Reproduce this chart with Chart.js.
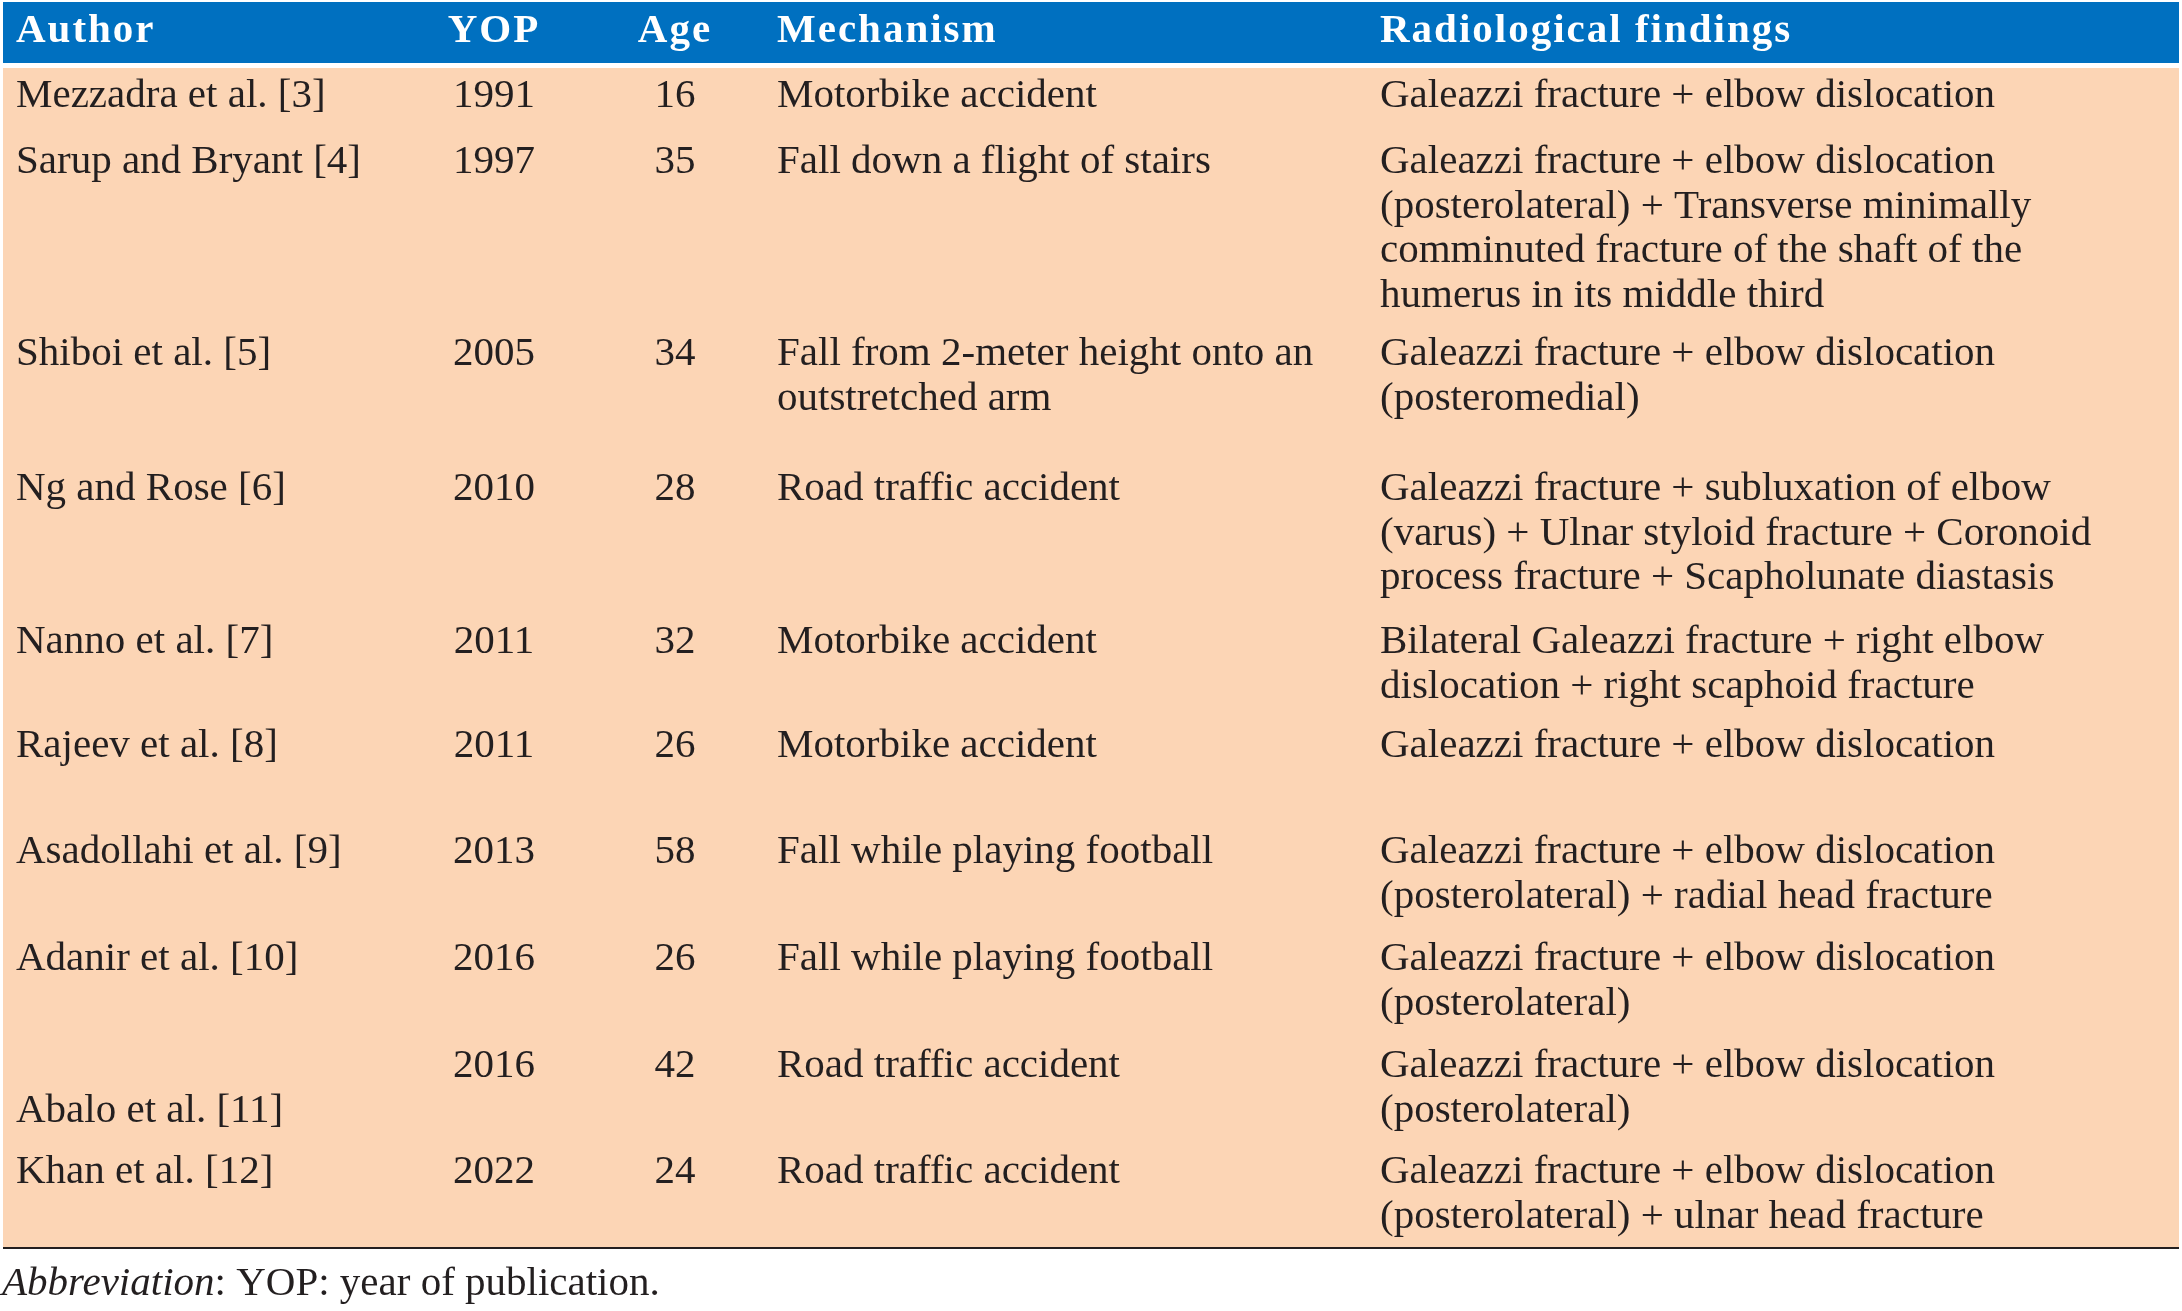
<!DOCTYPE html>
<html>
<head>
<meta charset="utf-8">
<title>Galeazzi fracture with elbow dislocation - reported cases</title>
<script src="https://cdn.jsdelivr.net/npm/chart.js@4"></script>
<style>
  html, body { margin: 0; padding: 0; background: #ffffff; }
  #wrap { position: relative; width: 2182px; height: 1311px; }
</style>
</head>
<body>
<div id="wrap"><canvas id="tableChart"></canvas></div>
<script>
// table content
var columns = ['Author', 'YOP', 'Age', 'Mechanism', 'Radiological findings'];
var authors = [
    'Mezzadra et al. [3]',
    'Sarup and Bryant [4]',
    'Shiboi et al. [5]',
    'Ng and Rose [6]',
    'Nanno et al. [7]',
    'Rajeev et al. [8]',
    'Asadollahi et al. [9]',
    'Adanir et al. [10]',
    '\nAbalo et al. [11]',
    'Khan et al. [12]'
];
var years = [1991, 1997, 2005, 2010, 2011, 2011, 2013, 2016, 2016, 2022];
var ages = [16, 35, 34, 28, 32, 26, 58, 26, 42, 24];
var mechanisms = [
    'Motorbike accident',
    'Fall down a flight of stairs',
    'Fall from 2-meter height onto an\noutstretched arm',
    'Road traffic accident',
    'Motorbike accident',
    'Motorbike accident',
    'Fall while playing football',
    'Fall while playing football',
    'Road traffic accident',
    'Road traffic accident'
];
var findings = [
    'Galeazzi fracture + elbow dislocation',
    'Galeazzi fracture + elbow dislocation\n(posterolateral) + Transverse minimally\ncomminuted fracture of the shaft of the\nhumerus in its middle third',
    'Galeazzi fracture + elbow dislocation\n(posteromedial)',
    'Galeazzi fracture + subluxation of elbow\n(varus) + Ulnar styloid fracture + Coronoid\nprocess fracture + Scapholunate diastasis',
    'Bilateral Galeazzi fracture + right elbow\ndislocation + right scaphoid fracture',
    'Galeazzi fracture + elbow dislocation',
    'Galeazzi fracture + elbow dislocation\n(posterolateral) + radial head fracture',
    'Galeazzi fracture + elbow dislocation\n(posterolateral)',
    'Galeazzi fracture + elbow dislocation\n(posterolateral)',
    'Galeazzi fracture + elbow dislocation\n(posterolateral) + ulnar head fracture'
];
var footItalic = 'Abbreviation';
var footText = ': YOP: year of publication.';

// layout (page pixels)
var W = 2182, H = 1311;
var colX = [16, 494, 675, 777, 1380];
var colAlign = ['left', 'center', 'center', 'left', 'left'];
var rowBase = [107, 173, 365, 500, 653, 757, 863, 970, 1077, 1183];
var headBase = 42;
var footBase = 1295;
var lineStep = 44.5;
var bodyFont = '41px "Liberation Serif", "Times New Roman", serif';
var headFont = 'bold 41px "Liberation Serif", "Times New Roman", serif';
var ink = '#231f20';

var cellColumns = [authors, years, ages, mechanisms, findings];

var datasets = cellColumns.map(function (values, c) {
    return {
        label: columns[c],
        data: values.map(function (v, r) {
            return { x: colX[c], y: rowBase[r], text: String(v) };
        }),
        pointRadius: 0,
        showLine: false
    };
});

var tablePlugin = {
    id: 'tableCells',
    beforeDatasetsDraw: function (chart) {
        var ctx = chart.ctx;
        var sx = chart.scales.x, sy = chart.scales.y;
        var left = sx.getPixelForValue(3), right = sx.getPixelForValue(2179);
        ctx.save();
        // header band
        ctx.fillStyle = '#0070c0';
        ctx.fillRect(left, sy.getPixelForValue(2), right - left, sy.getPixelForValue(63) - sy.getPixelForValue(2));
        // body band
        ctx.fillStyle = '#fcd5b5';
        ctx.fillRect(left, sy.getPixelForValue(68), right - left, sy.getPixelForValue(1247) - sy.getPixelForValue(68));
        // bottom rule
        ctx.strokeStyle = ink;
        ctx.lineWidth = 2;
        ctx.beginPath();
        ctx.moveTo(left, sy.getPixelForValue(1248));
        ctx.lineTo(right, sy.getPixelForValue(1248));
        ctx.stroke();
        // header labels
        ctx.fillStyle = '#ffffff';
        ctx.font = headFont;
        ctx.letterSpacing = '2px';
        ctx.textBaseline = 'alphabetic';
        columns.forEach(function (name, c) {
            ctx.textAlign = colAlign[c];
            ctx.fillText(name, sx.getPixelForValue(colX[c]), sy.getPixelForValue(headBase));
        });
        ctx.restore();
    },
    afterDatasetsDraw: function (chart) {
        var ctx = chart.ctx;
        var sx = chart.scales.x, sy = chart.scales.y;
        var step = sy.getPixelForValue(lineStep) - sy.getPixelForValue(0);
        ctx.save();
        ctx.fillStyle = ink;
        ctx.font = bodyFont;
        ctx.textBaseline = 'alphabetic';
        chart.data.datasets.forEach(function (ds, c) {
            var meta = chart.getDatasetMeta(c);
            ctx.textAlign = colAlign[c];
            meta.data.forEach(function (pt, r) {
                var lines = ds.data[r].text.split('\n');
                lines.forEach(function (line, k) {
                    if (line) ctx.fillText(line, pt.x, pt.y + k * step);
                });
            });
        });
        // footnote
        var fx = sx.getPixelForValue(2), fy = sy.getPixelForValue(footBase);
        ctx.textAlign = 'left';
        ctx.font = 'italic 41px "Liberation Serif", "Times New Roman", serif';
        ctx.fillText(footItalic, fx, fy);
        var w = ctx.measureText(footItalic).width;
        ctx.font = bodyFont;
        ctx.fillText(footText, fx + w, fy);
        ctx.restore();
    }
};

new Chart(document.getElementById('tableChart'), {
    type: 'scatter',
    data: { datasets: datasets },
    options: {
        responsive: true,
        maintainAspectRatio: false,
        animation: false,
        events: [],
        layout: { padding: 0 },
        scales: {
            x: { type: 'linear', min: 0, max: W, display: false },
            y: { type: 'linear', min: 0, max: H, reverse: true, display: false }
        },
        plugins: {
            legend: { display: false },
            tooltip: { enabled: false }
        }
    },
    plugins: [tablePlugin]
});
</script>
</body>
</html>
